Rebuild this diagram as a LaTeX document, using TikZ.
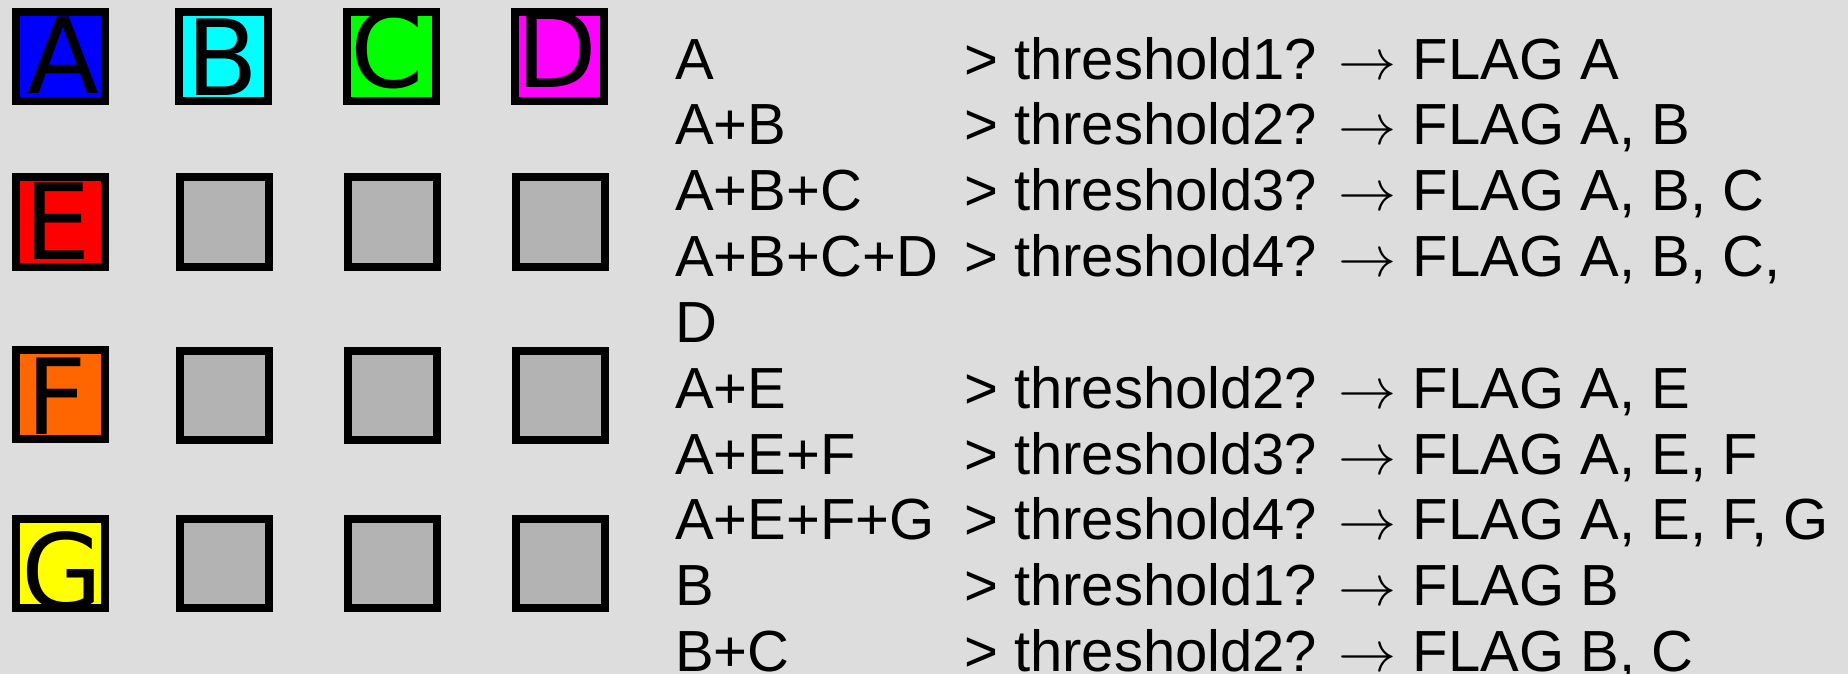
\RequirePackage{fix-cm}
\documentclass[tikz,border=0pt]{standalone}
\usepackage{fontspec}
\setmainfont{Liberation Sans}
\newfontfamily\boxfont{DejaVu Sans}
\definecolor{bg}{HTML}{DDDDDD}
\definecolor{cellgray}{HTML}{B3B3B3}
\definecolor{cA}{HTML}{0000FF}
\definecolor{cB}{HTML}{00FFFF}
\definecolor{cC}{HTML}{00FF00}
\definecolor{cD}{HTML}{FF00FF}
\definecolor{cE}{HTML}{FF0000}
\definecolor{cF}{HTML}{FF6600}
\definecolor{cG}{HTML}{FFFF00}
\DeclareMathSizes{58}{58}{40}{30}
\newcommand{\arr}{$\rightarrow$}
\begin{document}
\begin{tikzpicture}[x=1pt,y=-1pt,
  cell/.style={draw=black, line width=8pt, minimum width=89pt, minimum height=89pt, inner sep=0pt, fill=cellgray},
  letter/.style={anchor=base, inner sep=0pt, text=black, font=\boxfont\fontsize{105}{105}\selectfont},
  rowtext/.style={anchor=base west, inner sep=0pt, text=black, font=\fontsize{58}{60}\selectfont}]
\fill[bg] (0,0) rectangle (1848,674);
\useasboundingbox (0,0) rectangle (1848,674);
% coloured cells
\node[cell, fill=cA] (bA) at (60,57) {};
\node[cell, fill=cB] (bB) at (223,57) {};
\node[cell, fill=cC] (bC) at (391,57) {};
\node[cell, fill=cD] (bD) at (559,57) {};
\node[cell, fill=cE] (bE) at (60,222) {};
\node[cell, fill=cF] (bF) at (60,394) {};
\node[cell, fill=cG] (bG) at (60,563) {};
% grey cells
\node[cell] (g22) at (224,222) {};
\node[cell] (g23) at (392,222) {};
\node[cell] (g24) at (560,222) {};
\node[cell] (g32) at (224,395) {};
\node[cell] (g33) at (392,395) {};
\node[cell] (g34) at (560,395) {};
\node[cell] (g42) at (224,563) {};
\node[cell] (g43) at (392,563) {};
\node[cell] (g44) at (560,563) {};
% letters
\node[letter] (lA) at (63,94) {A};
\node[letter] (lB) at (223,96) {B};
\node[letter] (lC) at (387,88) {C};
\node[letter] (lD) at (557,88) {D};
\node[letter] (lE) at (58,259) {E};
\node[letter] (lF) at (57,434) {F};
\node[letter] (lG) at (62,609) {G};
% text lines
\node[rowtext] (t1a) at (675,80) {A};
\node[rowtext] (t1b) at (964,80) {> threshold1? \arr{} FLAG A};
\node[rowtext] (t2a) at (675,145) {A+B};
\node[rowtext] (t2b) at (964,145) {> threshold2? \arr{} FLAG A, B};
\node[rowtext] (t3a) at (675,210) {A+B+C};
\node[rowtext] (t3b) at (964,210) {> threshold3? \arr{} FLAG A, B, C};
\node[rowtext] (t4a) at (675,276) {A+B+C+D};
\node[rowtext] (t4b) at (964,276) {> threshold4? \arr{} FLAG A, B, C,};
\node[rowtext] (t5a) at (675,342) {D};
\node[rowtext] (t6a) at (675,408) {A+E};
\node[rowtext] (t6b) at (964,408) {> threshold2? \arr{} FLAG A, E};
\node[rowtext] (t7a) at (675,474) {A+E+F};
\node[rowtext] (t7b) at (964,474) {> threshold3? \arr{} FLAG A, E, F};
\node[rowtext] (t8a) at (675,539) {A+E+F+G};
\node[rowtext] (t8b) at (964,539) {> threshold4? \arr{} FLAG A, E, F, G};
\node[rowtext] (t9a) at (675,605) {B};
\node[rowtext] (t9b) at (964,605) {> threshold1? \arr{} FLAG B};
\node[rowtext] (t10a) at (675,671) {B+C};
\node[rowtext] (t10b) at (964,671) {> threshold2? \arr{} FLAG B, C};
\end{tikzpicture}
\end{document}
